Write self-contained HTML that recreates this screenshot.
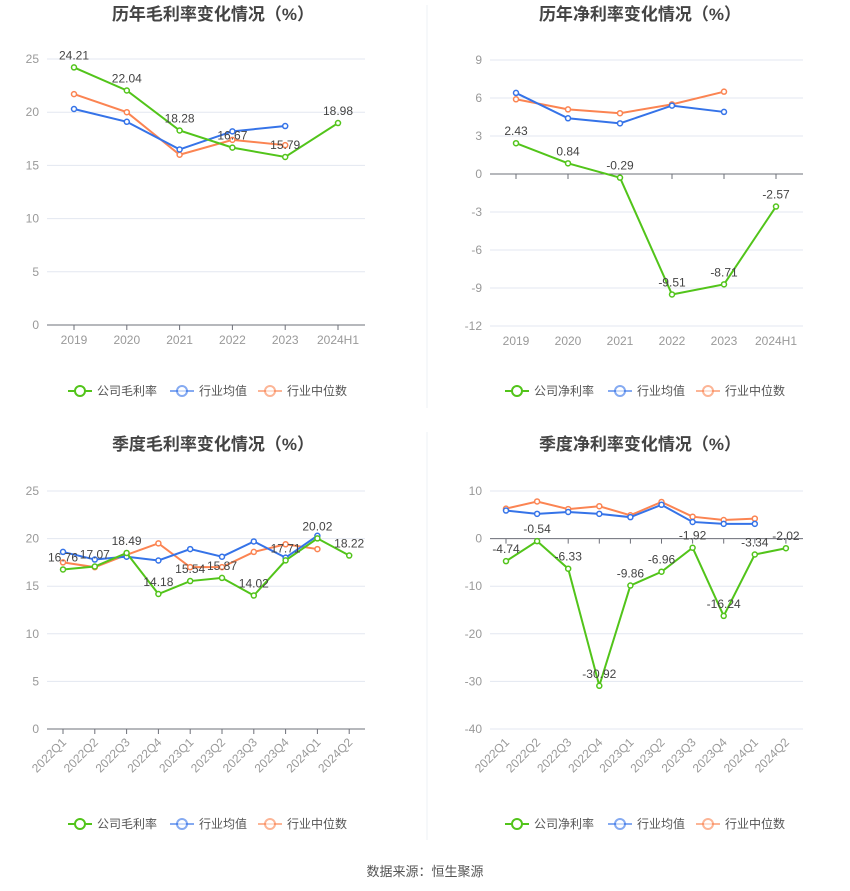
<!DOCTYPE html>
<html><head><meta charset="utf-8"><style>
body{margin:0;background:#fff;font-family:"Liberation Sans","Noto Sans CJK SC",sans-serif}
svg{display:block}
</style></head><body>
<svg id="s" width="850" height="891" xmlns="http://www.w3.org/2000/svg" font-family="Liberation Sans, Noto Sans CJK SC, sans-serif">
<line x1="427" y1="5" x2="427" y2="408" stroke="#eef0f4"/>
<line x1="427" y1="432" x2="427" y2="840" stroke="#eef0f4"/>
<text x="425" y="876" text-anchor="middle" font-size="13" fill="#555">数据来源：恒生聚源</text>
</svg>
<script>
const yearCats=["2019","2020","2021","2022","2023","2024H1"];
const qCats=["2022Q1","2022Q2","2022Q3","2022Q4","2023Q1","2023Q2","2023Q3","2023Q4","2024Q1","2024Q2"];
const c1Company=[24.21,22.04,18.28,16.67,15.79,18.98];
const c1Avg=[20.3,19.1,16.5,18.2,18.7];
const c1Med=[21.7,20.0,16.0,17.4,16.9];
const c1Ticks=[0,5,10,15,20,25];
const c2Company=[2.43,0.84,-0.29,-9.51,-8.71,-2.57];
const c2Avg=[6.4,4.4,4.0,5.4,4.9];
const c2Med=[5.9,5.1,4.8,5.5,6.5];
const c2Ticks=[-12,-9,-6,-3,0,3,6,9];
const c3Company=[16.76,17.07,18.49,14.18,15.54,15.87,14.02,17.71,20.02,18.22];
const c3Avg=[18.6,17.8,18.1,17.7,18.9,18.1,19.7,18.0,20.3];
const c3Med=[17.5,17.0,18.3,19.5,17.0,17.0,18.6,19.4,18.9];
const c3Ticks=[0,5,10,15,20,25];
const c4Company=[-4.74,-0.54,-6.33,-30.92,-9.86,-6.96,-1.92,-16.24,-3.34,-2.02];
const c4Avg=[5.9,5.2,5.6,5.2,4.5,7.1,3.5,3.1,3.1];
const c4Med=[6.3,7.8,6.2,6.8,4.9,7.7,4.6,3.9,4.2];
const c4Ticks=[-40,-30,-20,-10,0,10];

const NS="http://www.w3.org/2000/svg";
const svg=document.getElementById('s');
function mk(tag,attrs,parent){const e=document.createElementNS(NS,tag);for(const k in attrs)e.setAttribute(k,attrs[k]);(parent||svg).appendChild(e);return e;}
const GREEN="#52c41a",BLUE="#3573e8",ORANGE="#fb8452";
function chart(o){
  const g=mk('g',{});
  
  
  const t=mk('text',{x:o.cx,y:o.ty,'text-anchor':'middle','font-size':17,'font-weight':'bold',fill:'#444'},g);
  t.textContent=o.title;
  
  
  const tmin=o.ticks[0],tmax=o.ticks[o.ticks.length-1];
  const y=v=>o.y0+(v-tmin)/(tmax-tmin)*(o.y1-o.y0);
  const x=i=>o.x0+i*o.step;
  o.ticks.forEach(v=>{
    const l=mk('line',{x1:o.left,x2:o.right,y1:y(v),y2:y(v),stroke:'#e3e7f0'},g);
    
    
    const tx=mk('text',{x:o.left-8,y:y(v)+4,'text-anchor':'end','font-size':12,fill:'#999'},g);
    tx.textContent=v;
    
    
  });
  const ax=mk('line',{x1:o.left,x2:o.right,y1:y(0),y2:y(0),stroke:'#6e7079'},g);
  
  
  const by=y(tmin);
  o.cats.forEach((c,i)=>{
    const tk=mk('line',{x1:x(i),x2:x(i),y1:y(0),y2:y(0)+5,stroke:'#6e7079'},g);
    
    
    let tx;
    if(o.rot){tx=mk('text',{x:x(i)+4,y:by+14,'text-anchor':'end','font-size':12,fill:'#999',transform:`rotate(-45 ${x(i)+4} ${by+14})`},g);}
    else tx=mk('text',{x:x(i),y:by+19,'text-anchor':'middle','font-size':12,fill:'#999'},g);
    tx.textContent=c;
    
    
  });
  [[o.med,ORANGE,'industry-median-line'],[o.avg,BLUE,'industry-average-line'],[o.comp,GREEN,'company-line']].forEach(([d,col,nm])=>{
    const pts=d.map((v,i)=>x(i)+','+y(v)).join(' ');
    const pl=mk('polyline',{points:pts,fill:'none',stroke:col,'stroke-width':2},g);
    
    
    d.forEach((v,i)=>{
      const c=mk('circle',{cx:x(i),cy:y(v),r:2.5,fill:'#fff',stroke:col,'stroke-width':1.5},g);
      
      
    });
  });
  o.comp.forEach((v,i)=>{
    const tx=mk('text',{x:x(i),y:y(v)-8,'text-anchor':'middle','font-size':12,fill:'#444'},g);
    tx.textContent=v.toFixed(2);
    
    
  });
  const legs=[[o.compName,GREEN,o.lx[0]],["行业均值",BLUE,o.lx[1]],["行业中位数",ORANGE,o.lx[2]]];
  legs.forEach(([n,col,lx])=>{
    const lg=mk('g',{},g);
    
    
    const op=col===GREEN?1:0.6;
    mk('line',{x1:lx,x2:lx+24,y1:o.ly,y2:o.ly,stroke:col,'stroke-width':2,opacity:op},lg);
    mk('circle',{cx:lx+12,cy:o.ly,r:5,fill:'#fff',stroke:col,'stroke-width':2,opacity:op},lg);
    const tx=mk('text',{x:lx+29,y:o.ly+4,'font-size':12,fill:'#555'},lg);
    tx.textContent=n;
  });
}
chart({name:'annual-gross-margin-chart',title:'历年毛利率变化情况（%）',cx:213,ty:20,ticks:c1Ticks,y0:325,y1:59,left:47,right:365,x0:74,step:52.8,cats:yearCats,comp:c1Company,avg:c1Avg,med:c1Med,compName:'公司毛利率',ly:391,lx:[68,170,258]});
chart({name:'annual-net-margin-chart',title:'历年净利率变化情况（%）',cx:640,ty:20,ticks:c2Ticks,y0:326,y1:60,left:490,right:803,x0:516,step:52,cats:yearCats,comp:c2Company,avg:c2Avg,med:c2Med,compName:'公司净利率',ly:391,lx:[505,608,696]});
chart({name:'quarterly-gross-margin-chart',title:'季度毛利率变化情况（%）',cx:213,ty:450,ticks:c3Ticks,y0:729,y1:491,left:47,right:365,x0:63,step:31.8,cats:qCats,comp:c3Company,avg:c3Avg,med:c3Med,compName:'公司毛利率',ly:824,rot:true,lx:[68,170,258]});
chart({name:'quarterly-net-margin-chart',title:'季度净利率变化情况（%）',cx:640,ty:450,ticks:c4Ticks,y0:729,y1:491,left:490,right:803,x0:506,step:31.1,cats:qCats,comp:c4Company,avg:c4Avg,med:c4Med,compName:'公司净利率',ly:824,rot:true,lx:[505,608,696]});
</script>
</body></html>
